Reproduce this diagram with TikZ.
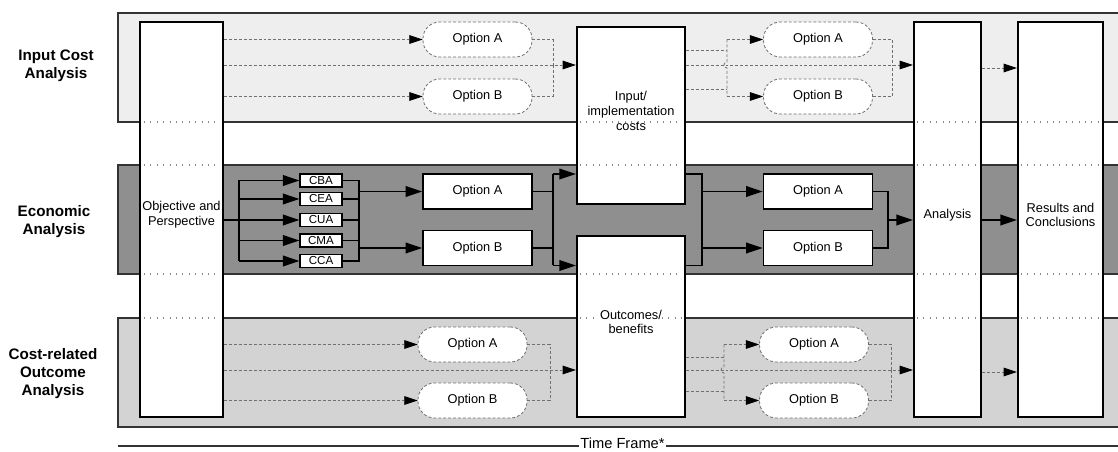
\documentclass[tikz,border=0pt]{standalone}
\usepackage{fontspec}
\setmainfont{Liberation Sans}
\usetikzlibrary{arrows.meta,fit}
\definecolor{bandA}{HTML}{EEEEEE}
\definecolor{bandB}{HTML}{8F8F8F}
\definecolor{bandC}{HTML}{D3D3D3}
\definecolor{bord}{HTML}{333333}
\definecolor{dsh}{HTML}{707070}
\definecolor{dotc}{HTML}{8A8A8A}
\begin{document}
\begin{tikzpicture}[x=0.75pt,y=-0.75pt,
 band/.style={draw=bord,line width=1pt},
 rowlab/.style={align=center,font=\fontsize{11.4}{13.5}\selectfont\bfseries},
 col/.style={draw=black,line width=1.6pt,fill=white,inner sep=0pt,align=center,font=\fontsize{9.6}{11}\selectfont},
 solidbox/.style={draw=black,line width=1.2pt,fill=white,minimum width=81.75pt,minimum height=26.25pt,inner sep=0pt,font=\fontsize{9.6}{11}\selectfont},
 dashbox/.style={draw=dsh,dash pattern=on 2.2pt off 1.5pt,line width=0.6pt,fill=white,rounded corners=12.5pt,minimum width=81.75pt,minimum height=26.25pt,inner sep=0pt,font=\fontsize{9.6}{11}\selectfont},
 tinybox/.style={draw=black,line width=0.8pt,fill=white,minimum width=31.5pt,minimum height=9.75pt,inner sep=0pt,font=\fontsize{8.7}{9}\selectfont},
 sline/.style={line width=1.3pt},
 sarrow/.style={sline,-{Triangle[length=12.5pt,width=8pt]}},
 dline/.style={draw=dsh,line width=0.6pt,dash pattern=on 2.2pt off 1.5pt},
 darrow/.style={dline,-{Triangle[length=10pt,width=6.5pt,color=black]}},
 dotl/.style={draw=dotc,line width=0.8pt,dash pattern=on 0.8pt off 4pt},
]
\useasboundingbox (0,0) rectangle (1118,452);
% bands
\path[band,fill=bandA] (118,13) rectangle (1125,122);
\path[band,fill=bandB] (118,165) rectangle (1125,274);
\path[band,fill=bandC] (118,318) rectangle (1125,427);
% row labels
\node[rowlab] (l1) at (56,66) {Input Cost\\Analysis};
\node[rowlab] (l2) at (54,222) {Economic\\Analysis};
\node[rowlab] (l3) at (53,374) {Cost-related\\Outcome\\Analysis};
% columns
\node[col,fit={(140,22)(223,417)}] (obj) {Objective and\\Perspective};
\node[col,fit={(577,27)(685,204)}] (inp) {Input/\\implementation\\costs};
\node[col,fit={(577,236)(685,417)}] (out) {Outcomes/\\benefits};
\node[col,fit={(914,22)(981,417)}] (ana) {Analysis};
\node[col,fit={(1018,22)(1103,417)}] (res) {Results and\\Conclusions};
% dotted band boundaries inside columns
\foreach \yy in {122,165,274,318}{
  \draw[dotl] (144,\yy) -- (219,\yy);
  \draw[dotl] (917,\yy) -- (978,\yy);
  \draw[dotl] (1021,\yy) -- (1100,\yy);
}
\draw[dotl] (580,122) -- (682,122);
\draw[dotl] (580,165) -- (682,165);
\draw[dotl] (580,274) -- (682,274);
\draw[dotl] (580,318) -- (598,318);
\draw[dotl] (662,318) -- (682,318);
% ---------- top band ----------
\node[dashbox] (tA) at (477.5,39.5) {Option A};
\node[dashbox] (tB) at (477.5,96.5) {Option B};
\node[dashbox] (tA2) at (818,39.5) {Option A};
\node[dashbox] (tB2) at (818,96.5) {Option B};
\coordinate (ty) at (0,65);
\coordinate (ty1) at (0,50);
\coordinate (ty3) at (0,89);
\coordinate (ty4) at (0,68);
\coordinate (tm1) at (553,65);
\coordinate (tv) at (727,65);
\coordinate (tm2) at (892,65);
\draw[darrow] (obj.east |- tA.west) -- (tA.west);
\draw[darrow] (obj.east |- tB.west) -- (tB.west);
\draw[darrow] (obj.east |- ty) -- (inp.west |- ty);
\draw[dline] (tA.east) -| (tm1);
\draw[dline] (tB.east) -| (tm1);
\draw[dline] (inp.east |- ty1) -- (tv |- ty1);
\draw[dline] (inp.east |- ty3) -- (tv |- ty3);
\draw[dline] (tv |- tA2.west) -- ([yshift=2.25pt]tv) arc[start angle=90,end angle=270,radius=2.25pt] -- (tv |- tB2.west);
\draw[darrow] (tv |- tA2.west) -- (tA2.west);
\draw[darrow] (tv |- tB2.west) -- (tB2.west);
\draw[darrow] (inp.east |- ty) -- (ana.west |- ty);
\draw[dline] (tA2.east) -| (tm2);
\draw[dline] (tB2.east) -| (tm2);
\draw[darrow] (ana.east |- ty4) -- (res.west |- ty4);
% ---------- middle band ----------
\node[tinybox] (cba) at (321,180.5) {CBA};
\node[tinybox] (cea) at (321,199) {CEA};
\node[tinybox] (cua) at (321,220) {CUA};
\node[tinybox] (cma) at (321,240.5) {CMA};
\node[tinybox] (cca) at (321,261) {CCA};
\node[solidbox] (mA) at (477.5,191.5) {Option A};
\node[solidbox] (mB) at (477.5,248) {Option B};
\node[solidbox] (mA2) at (818,191.5) {Option A};
\node[solidbox] (mB2) at (818,248) {Option B};
\coordinate (mv) at (239,220);
\coordinate (mv2) at (359,220);
\coordinate (mv3) at (553,220);
\coordinate (mv4) at (702,220);
\coordinate (mv5) at (888,220);
\coordinate (my1) at (0,174);
\coordinate (my2) at (0,265.5);
\draw[sarrow] (obj.east |- cua.west) -- (cua.west);
\draw[sline] (mv |- cba.west) -- (mv |- cca.west);
\foreach \b in {cba,cea,cma,cca}{\draw[sarrow] (mv |- \b.west) -- (\b.west);}
\draw[sline] (cba.east) -- (mv2 |- cba.east) -- (mv2 |- cca.east) -- (cca.east);
\foreach \b in {cea,cua,cma}{\draw[sline] (\b.east) -- (mv2 |- \b.east);}
\draw[sarrow] (mv2 |- mA.west) -- (mA.west);
\draw[sarrow] (mv2 |- mB.west) -- (mB.west);
\draw[sline] (mA.east) -- (mv3 |- mA.east);
\draw[sline] (mB.east) -- (mv3 |- mB.east);
\draw[sline] (mv3 |- my1) -- (mv3 |- my2);
\draw[sarrow] (mv3 |- my1) -- (inp.west |- my1);
\draw[sarrow] (mv3 |- my2) -- (out.west |- my2);
\draw[sline] (inp.east |- my1) -- (mv4 |- my1) -- (mv4 |- my2) -- (out.east |- my2);
\draw[sarrow] (mv4 |- mA2.west) -- (mA2.west);
\draw[sarrow] (mv4 |- mB2.west) -- (mB2.west);
\draw[sline] (mA2.east) -| (mv5);
\draw[sline] (mB2.east) -| (mv5);
\draw[sarrow] (mv5) -- (ana.west |- mv5);
\draw[sarrow] (ana.east |- mv5) -- (res.west |- mv5);
% ---------- bottom band ----------
\node[dashbox] (bA) at (472.5,344.5) {Option A};
\node[dashbox] (bB) at (472.5,400.5) {Option B};
\node[dashbox] (bA2) at (814,344.5) {Option A};
\node[dashbox] (bB2) at (814,400.5) {Option B};
\coordinate (by) at (0,370);
\coordinate (by1) at (0,357);
\coordinate (by3) at (0,391);
\coordinate (by4) at (0,372);
\coordinate (bm1) at (550,370);
\coordinate (bv) at (724,370);
\coordinate (bm2) at (891,370);
\draw[darrow] (obj.east |- bA.west) -- (bA.west);
\draw[darrow] (obj.east |- bB.west) -- (bB.west);
\draw[darrow] (obj.east |- by) -- (out.west |- by);
\draw[dline] (bA.east) -| (bm1);
\draw[dline] (bB.east) -| (bm1);
\draw[dline] (out.east |- by1) -- (bv |- by1);
\draw[dline] (out.east |- by3) -- (bv |- by3);
\draw[dline] (bv |- bA2.west) -- ([yshift=2.25pt]bv) arc[start angle=90,end angle=270,radius=2.25pt] -- (bv |- bB2.west);
\draw[darrow] (bv |- bA2.west) -- (bA2.west);
\draw[darrow] (bv |- bB2.west) -- (bB2.west);
\draw[darrow] (out.east |- by) -- (ana.west |- by);
\draw[dline] (bA2.east) -| (bm2);
\draw[dline] (bB2.east) -| (bm2);
\draw[darrow] (ana.east |- by4) -- (res.west |- by4);
% time frame
\node[font=\fontsize{11}{12}\selectfont,inner sep=1pt] (tf) at (622.5,443.5) {Time Frame*};
\coordinate (tl) at (118,446);
\coordinate (tr) at (1118,446);
\draw[draw=bord,line width=0.8pt] (tl) -- (tl -| tf.west);
\draw[draw=bord,line width=0.8pt] (tf.east |- tr) -- (tr);
\end{tikzpicture}
\end{document}
